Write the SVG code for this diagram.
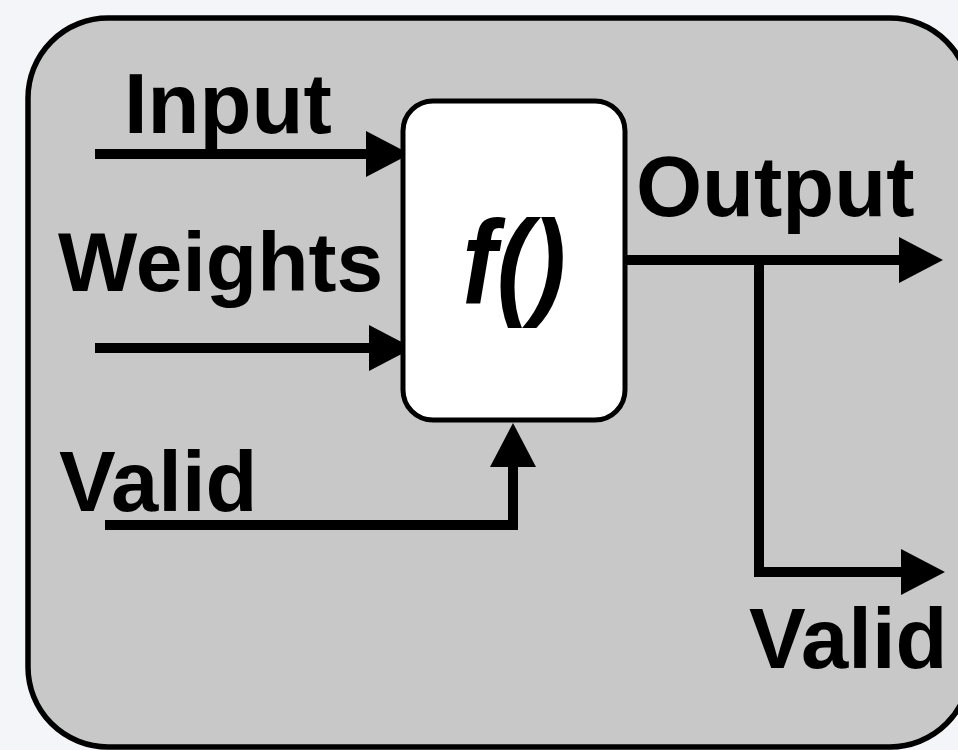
<svg xmlns="http://www.w3.org/2000/svg" width="958" height="750" viewBox="0 0 958 750">
  <defs>
    <marker id="arrow" viewBox="0 0 44 46" refX="2" refY="23" markerWidth="44" markerHeight="46" markerUnits="userSpaceOnUse" orient="auto">
      <path d="M0,0 L44,23 L0,46 Z" fill="#000"/>
    </marker>
  </defs>
  <style>
    .lbl { font-family: "Liberation Sans", Arial, sans-serif; font-weight: bold; font-size: 85px; fill: #000; }
    .fn { font-family: "Liberation Sans", Arial, sans-serif; font-style: italic; font-weight: bold; font-size: 118px; fill: #000; }
    .wire { fill: none; stroke: #000; stroke-width: 10; stroke-linejoin: miter; stroke-linecap: butt; marker-end: url(#arrow); }
  </style>
  <rect width="958" height="750" fill="#f4f5f9"/>
  <g id="container">
    <rect x="28" y="18" width="942" height="729" rx="80" ry="80" fill="#c8c8c8" stroke="#000" stroke-width="5.5"/>
  </g>
  <g id="connectors">
    <path class="wire" d="M95,154 H368"/>
    <path class="wire" d="M95,348 H371"/>
    <path class="wire" d="M625,260 H901"/>
    <path class="wire" d="M759,260 V572 H903"/>
    <path class="wire" d="M105,525 H513 V465"/>
  </g>
  <g id="func">
    <rect x="403" y="101" width="222" height="319" rx="30" ry="30" fill="#fff" stroke="#000" stroke-width="5"/>
    <text class="fn" transform="translate(514,303) scale(0.88,1)" text-anchor="middle">f()</text>
  </g>
  <g id="label-input">
    <text class="lbl" x="124" y="133">Input</text>
  </g>
  <g id="label-weights">
    <text class="lbl" x="58" y="291" style="font-size:84px">Weights</text>
  </g>
  <g id="label-output">
    <text class="lbl" x="636" y="216">Output</text>
  </g>
  <g id="label-valid-in">
    <text class="lbl" x="59" y="511">Valid</text>
  </g>
  <g id="label-valid-out">
    <text class="lbl" x="749" y="668">Valid</text>
  </g>
</svg>
